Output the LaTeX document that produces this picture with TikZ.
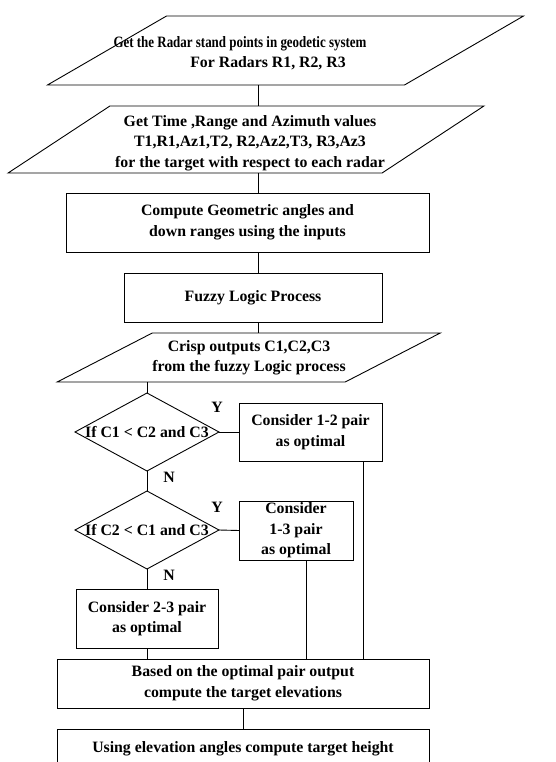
\documentclass[tikz,border=0pt]{standalone}
\usepackage{graphicx}
\usepackage{fontspec}
\setmainfont{Liberation Serif}
\usetikzlibrary{shapes.geometric}
\begin{document}
\begin{tikzpicture}[x=1pt, y=-1pt, line width=0.9pt,
    font=\bfseries\fontsize{15.8}{20.5}\selectfont,
    box/.style={draw, rectangle, align=center, inner sep=0pt, outer sep=0pt},
    io/.style={draw, rectangle, inner sep=0pt, outer sep=0pt},
    dec/.style={draw, diamond, inner sep=0pt, outer sep=0pt, minimum width=144pt, minimum height=78pt},
    txt/.style={align=center, inner sep=0pt}]
    \useasboundingbox (0,0) rectangle (555,762);
    \coordinate (axis) at (258,0);
    \node[io, xslant=1.725, minimum width=357pt, minimum height=69pt] (in1) at (285.5,50.5){};
    \node[txt] (in1t) at (240,53){\scalebox{0.82}[1]{Get the Radar stand points in geodetic system}\\\hspace*{56pt}For Radars R1, R2, R3};
    \node[io, xslant=1.52, minimum width=374pt, minimum height=67pt] (in2) at (246,139.5){};
    \node[txt] (in2t) at (250,143){Get Time ,Range and Azimuth values\\T1,R1,Az1,T2, R2,Az2,T3, R3,Az3\\for the target with respect to each radar};
    \node[box, minimum width=363pt, minimum height=59pt] (cmp) at (247.5,222.5){Compute Geometric angles and\\down ranges using the inputs};
    \node[box, minimum width=258pt, minimum height=49pt] (fz) at (253,297.5){Fuzzy Logic Process};
    \node[io, xslant=1.94, minimum width=288pt, minimum height=49pt] (crisp) at (248.75,357.5){};
    \node[txt] (crispt) at (249,358){Crisp outputs C1,C2,C3\\from the fuzzy Logic process};
    \draw (axis |- in1.south) -- (axis |- in2.north);
    \draw (axis |- in2.south) -- (axis |- cmp.north);
    \draw (axis |- cmp.south) -- (axis |- fz.north);
    \draw (axis |- fz.south) -- (axis |- crisp.north);
    \node[dec] (dec1) at (147,432){\makebox[0pt]{If C1 < C2 and C3}};
    \node[box, minimum width=143pt, minimum height=58pt] (opt12) at (310.5,432){Consider 1-2 pair\\as optimal};
    \node[txt] (y1) at (217,407){Y};
    \node[txt] (n1) at (169,477){N};
    \draw (dec1.north |- crisp.south) -- (dec1.north);
    \draw (dec1.east) -- (opt12.west);
    \node[dec] (dec2) at (147,530){\makebox[0pt]{If C2 < C1 and C3}};
    \node[box, minimum width=114pt, minimum height=59pt] (opt13) at (296,530.5){Consider\\1-3 pair\\as optimal};
    \node[txt] (y2) at (217,507){Y};
    \node[txt] (n2) at (169,575){N};
    \draw (dec1.south) -- (dec2.north);
    \draw (dec2.east) -- (opt13.west);
    \node[box, minimum width=142pt, minimum height=59pt] (opt23) at (147,618.5){Consider 2-3 pair\\as optimal};
    \draw (dec2.south) -- (opt23.north);
    \node[box, minimum width=372pt, minimum height=49pt] (elev) at (243,683.5){Based on the optimal pair output\\compute the target elevations};
    \draw (opt23.south) -- (opt23.south |- elev.north);
    \draw ([xshift=10pt]opt13.south) -- ([xshift=10pt]opt13.south |- elev.north);
    \draw ([xshift=-19pt]opt12.south east) -- ([xshift=-19pt]opt12.south east |- elev.north);
    \node[box, anchor=north, minimum width=372pt, minimum height=40pt] (hgt) at (243,729){Using elevation angles compute target height};
    \draw (elev.south) -- (hgt.north);
\end{tikzpicture}
\end{document}
